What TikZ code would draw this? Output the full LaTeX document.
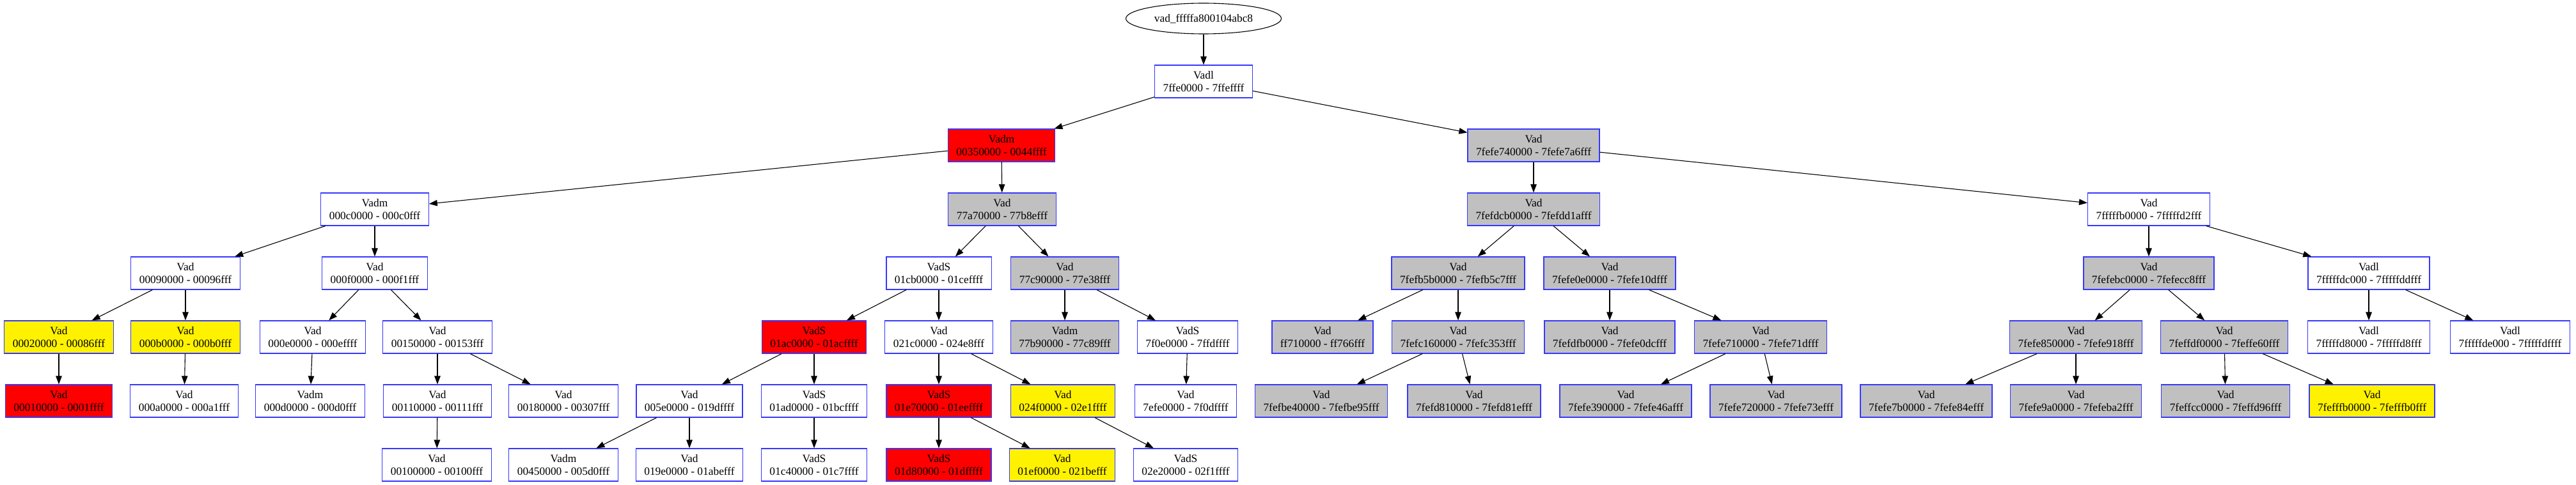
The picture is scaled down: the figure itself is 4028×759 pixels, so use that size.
\documentclass[tikz,border=0pt]{standalone}
\usepackage{fontspec}
\setmainfont{Liberation Serif}
\usetikzlibrary{shapes.geometric,arrows.meta}
\definecolor{vadblue}{RGB}{55,55,255}
\definecolor{vadgray}{RGB}{192,192,192}
\begin{document}
\begin{tikzpicture}[x=1pt,y=-1pt,
  vbox/.style={draw=vadblue,line width=1.2pt,rectangle,minimum height=51pt,inner xsep=13pt,inner ysep=2pt,align=center,font=\fontsize{17.4}{20}\selectfont},
  wb/.style={vbox,fill=white},
  rb/.style={vbox,fill=red},
  yb/.style={vbox,fill=yellow},
  gb/.style={vbox,fill=vadgray},
  rootell/.style={draw=black,line width=1.1pt,ellipse,minimum width=243pt,minimum height=48pt,inner sep=0pt,font=\fontsize{17.4}{20}\selectfont},
  conn/.style={-{Triangle[length=13pt,width=9.5pt]},line width=1.1pt,black}]
\useasboundingbox (0,0) rectangle (4028,759);
% row 0/1/2/3
\node[rootell] (e) at (1882,29) {vad\_fffffa800104abc8};
\node[wb] (n1) at (1882,127.5) {Vadl\\7ffe0000 - 7ffeffff};
\node[rb] (n2a) at (1566,227.5) {Vadm\\00350000 - 0044ffff};
\node[gb] (n2b) at (2398,227.5) {Vad\\7fefe740000 - 7fefe7a6fff};
\node[wb] (n3a) at (586,327.5) {Vadm\\000c0000 - 000c0fff};
\node[gb] (n3b) at (1567,327.5) {Vad\\77a70000 - 77b8efff};
\node[gb] (n3c) at (2398,327.5) {Vad\\7fefdcb0000 - 7fefdd1afff};
\node[wb] (n3d) at (3360,327.5) {Vad\\7fffffb0000 - 7fffffd2fff};
% row 4
\node[wb] (n4a) at (290,427.5) {Vad\\00090000 - 00096fff};
\node[wb] (n4b) at (586,427.5) {Vad\\000f0000 - 000f1fff};
\node[wb] (n4c) at (1468,427.5) {VadS\\01cb0000 - 01ceffff};
\node[gb] (n4d) at (1665,427.5) {Vad\\77c90000 - 77e38fff};
\node[gb] (n4e) at (2280,427.5) {Vad\\7fefb5b0000 - 7fefb5c7fff};
\node[gb] (n4f) at (2517,427.5) {Vad\\7fefe0e0000 - 7fefe10dfff};
\node[gb] (n4g) at (3360,427.5) {Vad\\7fefebc0000 - 7fefecc8fff};
\node[wb] (n4h) at (3704,427.5) {Vadl\\7fffffdc000 - 7fffffddfff};
% row 5
\node[yb] (n5a) at (92,527.5) {Vad\\00020000 - 00086fff};
\node[yb] (n5b) at (290,527.5) {Vad\\000b0000 - 000b0fff};
\node[wb] (n5c) at (489,527.5) {Vad\\000e0000 - 000effff};
\node[wb] (n5d) at (684,527.5) {Vad\\00150000 - 00153fff};
\node[rb] (n5e) at (1273,527.5) {VadS\\01ac0000 - 01acffff};
\node[wb] (n5f) at (1468,527.5) {Vad\\021c0000 - 024e8fff};
\node[gb] (n5g) at (1665,527.5) {Vadm\\77b90000 - 77c89fff};
\node[wb] (n5h) at (1857,527.5) {VadS\\7f0e0000 - 7ffdffff};
\node[gb] (n5i) at (2068,527.5) {Vad\\ff710000 - ff766fff};
\node[gb] (n5j) at (2280,527.5) {Vad\\7fefc160000 - 7fefc353fff};
\node[gb] (n5k) at (2517,527.5) {Vad\\7fefdfb0000 - 7fefe0dcfff};
\node[gb] (n5l) at (2753,527.5) {Vad\\7fefe710000 - 7fefe71dfff};
\node[gb] (n5m) at (3246,527.5) {Vad\\7fefe850000 - 7fefe918fff};
\node[gb] (n5n) at (3478,527.5) {Vad\\7feffdf0000 - 7feffe60fff};
\node[wb] (n5o) at (3704,527.5) {Vadl\\7fffffd8000 - 7fffffd8fff};
\node[wb] (n5p) at (3925,527.5) {Vadl\\7fffffde000 - 7fffffdffff};
% row 6
\node[rb] (n6a) at (92,627.5) {Vad\\00010000 - 0001ffff};
\node[wb] (n6b) at (288,627.5) {Vad\\000a0000 - 000a1fff};
\node[wb] (n6c) at (485,627.5) {Vadm\\000d0000 - 000d0fff};
\node[wb] (n6d) at (684,627.5) {Vad\\00110000 - 00111fff};
\node[wb] (n6e) at (881,627.5) {Vad\\00180000 - 00307fff};
\node[wb] (n6f) at (1078,627.5) {Vad\\005e0000 - 019dffff};
\node[wb] (n6g) at (1273,627.5) {VadS\\01ad0000 - 01bcffff};
\node[rb] (n6h) at (1468,627.5) {VadS\\01e70000 - 01eeffff};
\node[yb] (n6i) at (1662,627.5) {Vad\\024f0000 - 02e1ffff};
\node[wb] (n6j) at (1854,627.5) {Vad\\7efe0000 - 7f0dffff};
\node[gb] (n6k) at (2066,627.5) {Vad\\7fefbe40000 - 7fefbe95fff};
\node[gb] (n6l) at (2305,627.5) {Vad\\7fefd810000 - 7fefd81efff};
\node[gb] (n6m) at (2542,627.5) {Vad\\7fefe390000 - 7fefe46afff};
\node[gb] (n6n) at (2777,627.5) {Vad\\7fefe720000 - 7fefe73efff};
\node[gb] (n6o) at (3012,627.5) {Vad\\7fefe7b0000 - 7fefe84efff};
\node[gb] (n6p) at (3246,627.5) {Vad\\7fefe9a0000 - 7fefeba2fff};
\node[gb] (n6q) at (3480,627.5) {Vad\\7feffcc0000 - 7feffd96fff};
\node[yb] (n6r) at (3709,627.5) {Vad\\7fefffb0000 - 7fefffb0fff};
% row 7
\node[wb] (n7a) at (683,727.5) {Vad\\00100000 - 00100fff};
\node[wb] (n7b) at (881,727.5) {Vadm\\00450000 - 005d0fff};
\node[wb] (n7c) at (1078,727.5) {Vad\\019e0000 - 01abefff};
\node[wb] (n7d) at (1273,727.5) {VadS\\01c40000 - 01c7ffff};
\node[rb] (n7e) at (1468,727.5) {VadS\\01d80000 - 01dfffff};
\node[yb] (n7f) at (1661,727.5) {Vad\\01ef0000 - 021befff};
\node[wb] (n7g) at (1854,727.5) {VadS\\02e20000 - 02f1ffff};
% edges
\foreach \a/\b in {e/n1,n1/n2a,n1/n2b,n2a/n3a,n2a/n3b,n2b/n3c,n2b/n3d,
  n3a/n4a,n3a/n4b,n3b/n4c,n3b/n4d,n3c/n4e,n3c/n4f,n3d/n4g,n3d/n4h,
  n4a/n5a,n4a/n5b,n4b/n5c,n4b/n5d,n4c/n5e,n4c/n5f,n4d/n5g,n4d/n5h,
  n4e/n5i,n4e/n5j,n4f/n5k,n4f/n5l,n4g/n5m,n4g/n5n,n4h/n5o,n4h/n5p,
  n5a/n6a,n5b/n6b,n5c/n6c,n5d/n6d,n5d/n6e,n5e/n6f,n5e/n6g,n5f/n6h,n5f/n6i,
  n5h/n6j,n5j/n6k,n5j/n6l,n5l/n6m,n5l/n6n,n5m/n6o,n5m/n6p,n5n/n6q,n5n/n6r,
  n6d/n7a,n6f/n7b,n6f/n7c,n6g/n7d,n6h/n7e,n6h/n7f,n6i/n7g}
  \draw[conn] (\a) -- (\b);
\end{tikzpicture}
\end{document}
